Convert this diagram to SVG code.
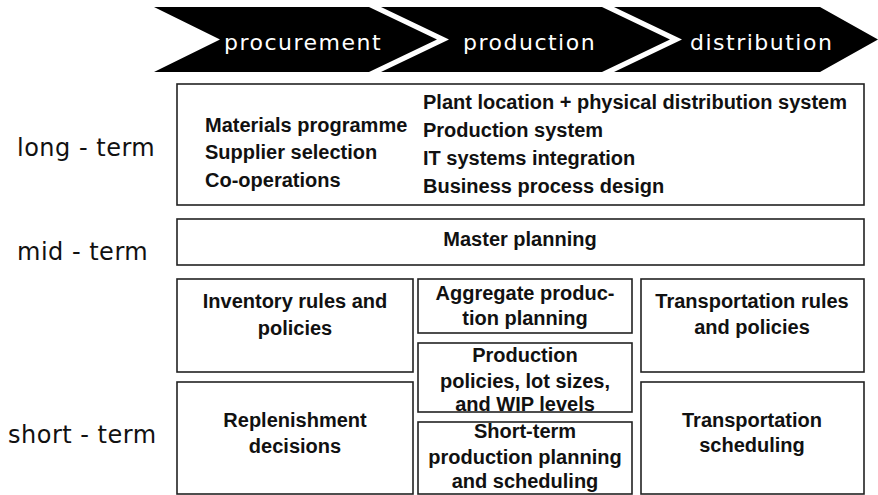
<svg xmlns="http://www.w3.org/2000/svg" width="878" height="495" viewBox="0 0 878 495">
<style>
.chev{fill:#000}
.ct{font-family:"DejaVu Sans",Verdana,sans-serif;font-size:22px;fill:#fff;letter-spacing:1.5px}
.lab{font-family:"DejaVu Sans",Verdana,sans-serif;font-size:24px;fill:#111;letter-spacing:0.5px}
.box{fill:#fff;stroke:#222;stroke-width:1.6}
.t{font-family:"Liberation Sans",Arial,sans-serif;font-size:20px;font-weight:bold;fill:#111}
.c{text-anchor:middle}
</style>
<rect width="878" height="495" fill="#fff"/>
<g id="chevrons">
<polygon class="chev" points="154,7 369,7 437,39.5 369,72 154,72 220,39.5"/>
<polygon class="chev" points="381,7 602,7 670,39.5 602,72 381,72 449,39.5"/>
<polygon class="chev" points="614,7 820,7 878,39.5 820,72 614,72 682,39.5"/>
<text class="ct" x="224" y="50">procurement</text>
<text class="ct" x="463" y="50">production</text>
<text class="ct" x="690" y="50">distribution</text>
</g>
<g id="labels">
<text class="lab" x="17" y="156">long - term</text>
<text class="lab" x="17" y="260">mid - term</text>
<text class="lab" x="8" y="443">short - term</text>
</g>
<g id="long-term">
<rect class="box" x="177" y="84" width="687" height="121"/>
<text class="t" x="205" y="132">Materials programme</text>
<text class="t" x="205" y="159">Supplier selection</text>
<text class="t" x="205" y="187">Co-operations</text>
<text class="t" x="423" y="109">Plant location + physical distribution system</text>
<text class="t" x="423" y="137">Production system</text>
<text class="t" x="423" y="165">IT systems integration</text>
<text class="t" x="423" y="193">Business process design</text>
</g>
<g id="master">
<rect class="box" x="177" y="219" width="687" height="46"/>
<text class="t c" x="520" y="246">Master planning</text>
</g>
<g id="inventory">
<rect class="box" x="177" y="279" width="236" height="93"/>
<text class="t c" x="295" y="308">Inventory rules and</text>
<text class="t c" x="295" y="335">policies</text>
</g>
<g id="replenishment">
<rect class="box" x="177" y="382" width="236" height="112"/>
<text class="t c" x="295" y="427">Replenishment</text>
<text class="t c" x="295" y="453">decisions</text>
</g>
<g id="aggregate">
<rect class="box" x="418" y="279" width="214" height="54"/>
<text class="t c" x="525" y="300">Aggregate produc-</text>
<text class="t c" x="525" y="325">tion planning</text>
</g>
<g id="prodpolicies">
<rect class="box" x="418" y="343" width="214" height="69"/>
<text class="t c" x="525" y="362">Production</text>
<text class="t c" x="525" y="388">policies, lot sizes,</text>
<text class="t c" x="525" y="411">and WIP levels</text>
</g>
<g id="shortterm">
<rect class="box" x="418" y="422" width="214" height="72"/>
<text class="t c" x="525" y="438">Short-term</text>
<text class="t c" x="525" y="464">production planning</text>
<text class="t c" x="525" y="488">and scheduling</text>
</g>
<g id="transrules">
<rect class="box" x="641" y="279" width="223" height="93"/>
<text class="t c" x="752" y="308">Transportation rules</text>
<text class="t c" x="752" y="334">and policies</text>
</g>
<g id="transsched">
<rect class="box" x="641" y="382" width="223" height="112"/>
<text class="t c" x="752" y="427">Transportation</text>
<text class="t c" x="752" y="452">scheduling</text>
</g>
<g id="connectors"></g>
</svg>
